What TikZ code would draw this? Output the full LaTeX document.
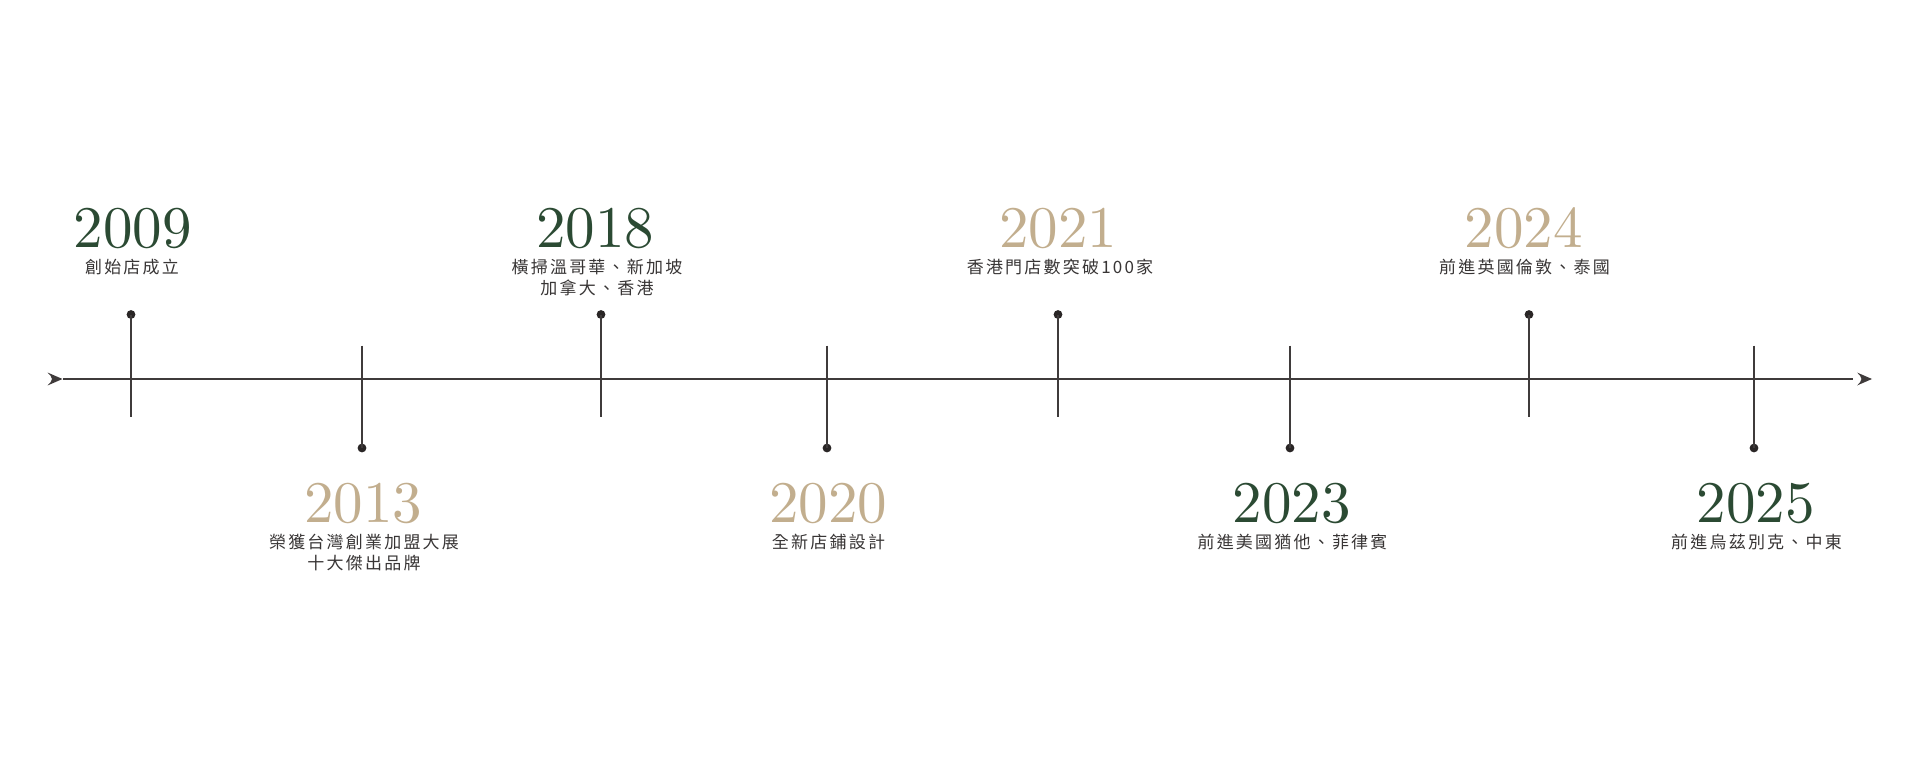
\documentclass[tikz,border=0pt]{standalone}
\usepackage{fontspec}
\newfontfamily\cjk[LetterSpace=13]{Noto Sans CJK TC}
\newfontfamily\yearfont{lmroman10-regular}[Extension=.otf]
\definecolor{yrgreen}{HTML}{2B4A33}
\definecolor{yrtan}{HTML}{C2AE8E}
\definecolor{linec}{HTML}{3F3B3B}
\definecolor{dotc}{HTML}{2A2626}
\definecolor{descc}{HTML}{383535}
\begin{document}
\begin{tikzpicture}[x=1pt,y=-1pt,
  axisline/.style={draw=linec, line width=1.8pt},
  tickline/.style={draw=linec, line width=1.8pt},
  dotmark/.style={circle, fill=dotc, inner sep=0pt, minimum size=8.8pt},
  yearbase/.style={font=\yearfont\fontsize{59}{60}\selectfont, anchor=base, inner sep=0pt},
  yeargreen/.style={yearbase, text=yrgreen},
  yeartan/.style={yearbase, text=yrtan},
  desc/.style={text=descc, font=\cjk\fontsize{17}{21}\selectfont, anchor=base, inner sep=0pt},
  arrowhead/.style={fill=linec}]
\useasboundingbox (0,0) rectangle (1920,776);

% axis
\coordinate (axL) at (63,379);
\coordinate (axR) at (1853,379);
\draw[axisline] (axL) -- (axR);
\fill[arrowhead] (62.5,379) -- (47.5,372.5) .. controls (51,376) .. (52,379) .. controls (51,382) .. (47.5,385.5) -- cycle;
\fill[arrowhead] (1872,379) -- (1857,372.5) .. controls (1860.5,376) .. (1861.5,379) .. controls (1860.5,382) .. (1857,385.5) -- cycle;

% upper ticks
\node[dotmark] (d2009) at (131,314.5) {};
\coordinate (e2009) at (131,416.7);
\draw[tickline] (d2009.center) -- (e2009);
\node[dotmark] (d2018) at (601,314.5) {};
\coordinate (e2018) at (601,416.7);
\draw[tickline] (d2018.center) -- (e2018);
\node[dotmark] (d2021) at (1058,314.5) {};
\coordinate (e2021) at (1058,416.7);
\draw[tickline] (d2021.center) -- (e2021);
\node[dotmark] (d2024) at (1529,314.5) {};
\coordinate (e2024) at (1529,416.7);
\draw[tickline] (d2024.center) -- (e2024);

% lower ticks
\coordinate (e2013) at (362,345.7);
\node[dotmark] (d2013) at (362,448) {};
\draw[tickline] (e2013) -- (d2013.center);
\coordinate (e2020) at (827,345.7);
\node[dotmark] (d2020) at (827,448) {};
\draw[tickline] (e2020) -- (d2020.center);
\coordinate (e2023) at (1290,345.7);
\node[dotmark] (d2023) at (1290,448) {};
\draw[tickline] (e2023) -- (d2023.center);
\coordinate (e2025) at (1754,345.7);
\node[dotmark] (d2025) at (1754,448) {};
\draw[tickline] (e2025) -- (d2025.center);

% upper labels
\node[yeargreen] (y2009) at (132.5,247.7) {2009};
\node[desc] (t2009) at (132,273.5) {創始店成立};
\node[yeargreen] (y2018) at (595,247.7) {2018};
\node[desc] (t2018a) at (597,273.5) {橫掃溫哥華、新加坡};
\node[desc] (t2018b) at (597,294.5) {加拿大、香港};
\node[yeartan] (y2021) at (1058,247.7) {2021};
\node[desc] (t2021) at (1060,273.5) {香港門店數突破100家};
\node[yeartan] (y2024) at (1523.5,247.7) {2024};
\node[desc] (t2024) at (1524.5,273.5) {前進英國倫敦、泰國};

% lower labels
\node[yeartan] (y2013) at (363,522.7) {2013};
\node[desc] (t2013a) at (364,548.8) {榮獲台灣創業加盟大展};
\node[desc] (t2013b) at (364,569.8) {十大傑出品牌};
\node[yeartan] (y2020) at (828,522.7) {2020};
\node[desc] (t2020) at (828.5,548.8) {全新店鋪設計};
\node[yeargreen] (y2023) at (1291.5,522.7) {2023};
\node[desc] (t2023) at (1292.5,548.8) {前進美國猶他、菲律賓};
\node[yeargreen] (y2025) at (1755.8,522.7) {2025};
\node[desc] (t2025) at (1756.5,548.8) {前進烏茲別克、中東};
\end{tikzpicture}
\end{document}
